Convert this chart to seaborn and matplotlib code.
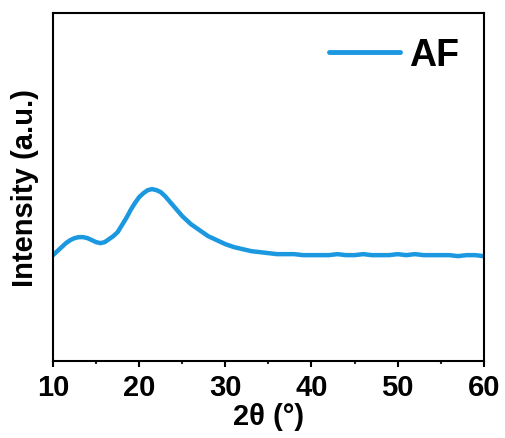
import pandas as pd
import seaborn as sns
import matplotlib.pyplot as plt

# values (2theta in degrees, intensity in arbitrary units)
two_theta = [10.0, 10.5, 11.0, 11.5, 12.0, 12.5, 13.0, 13.5, 14.0, 14.5,
             15.0, 15.5, 16.0, 16.5, 17.0, 17.5, 18.0, 18.5, 19.0, 19.5,
             20.0, 20.5, 21.0, 21.5, 22.0, 22.5, 23.0, 23.5, 24.0, 24.5,
             25.0, 25.5, 26.0, 26.5, 27.0, 27.5, 28.0, 28.5, 29.0, 29.5,
             30.0, 31.0, 32.0, 33.0, 34.0, 35.0, 36.0, 37.0, 38.0, 39.0,
             40.0, 41.0, 42.0, 43.0, 44.0, 45.0, 46.0, 47.0, 48.0, 49.0,
             50.0, 51.0, 52.0, 53.0, 54.0, 55.0, 56.0, 57.0, 58.0, 59.0, 60.0]
intensity = [106, 110, 114, 118, 121, 123, 124, 124, 123, 121,
             119, 118, 119, 122, 125, 129, 136, 143, 151, 158,
             164, 168, 171, 172, 171, 169, 165, 160, 155, 150,
             145, 141, 137, 134, 131, 128, 125, 123, 121, 119,
             117, 114, 112, 110, 109, 108, 107, 107, 107, 106,
             106, 106, 106, 107, 106, 106, 107, 106, 106, 106,
             107, 106, 107, 106, 106, 106, 106, 105, 106, 106, 105]
series_name = "AF"

df = pd.DataFrame({"2theta": two_theta, "intensity": intensity, "sample": series_name})

sns.set_style("ticks")
plt.rcParams["font.family"] = ["Liberation Sans", "DejaVu Sans"]
plt.rcParams["font.weight"] = "bold"
plt.rcParams["text.color"] = "black"
plt.rcParams["axes.labelcolor"] = "black"

fig = plt.figure(figsize=(5.05, 4.39), dpi=100)
ax = fig.add_axes([0.105, 0.175, 0.853, 0.793])

sns.lineplot(data=df, x="2theta", y="intensity", hue="sample",
             palette=["#1b98e0"], linewidth=3.2, ax=ax)

ax.set_xlim(10, 60)
ax.set_ylim(0, 348)
ax.set_xticks([10, 20, 30, 40, 50, 60])
ax.set_xticks([15, 25, 35, 45, 55], minor=True)
ax.set_yticks([])
ax.tick_params(axis="x", which="major", direction="out", length=4.5, width=1.5,
               labelsize=21, colors="black", pad=4)
ax.tick_params(axis="x", which="minor", direction="out", length=2.5, width=1.5)
for lbl in ax.get_xticklabels():
    lbl.set_fontweight("bold")
for sp in ax.spines.values():
    sp.set_visible(True)
    sp.set_linewidth(1.5)
    sp.set_color("black")

ax.set_xlabel("2θ (°)", fontsize=21, fontweight="bold", color="black", labelpad=1)
ax.set_ylabel("Intensity (a.u.)", fontsize=21, fontweight="bold", color="black", labelpad=10)

leg = ax.legend(loc="upper right", frameon=False, handlelength=1.9,
                handletextpad=0.25, borderaxespad=0.25, prop={"weight": "bold", "size": 27})
for line in leg.get_lines():
    line.set_linewidth(3.5)
for txt in leg.get_texts():
    txt.set_color("black")

fig.savefig("out.png", dpi=100)
plt.close(fig)
